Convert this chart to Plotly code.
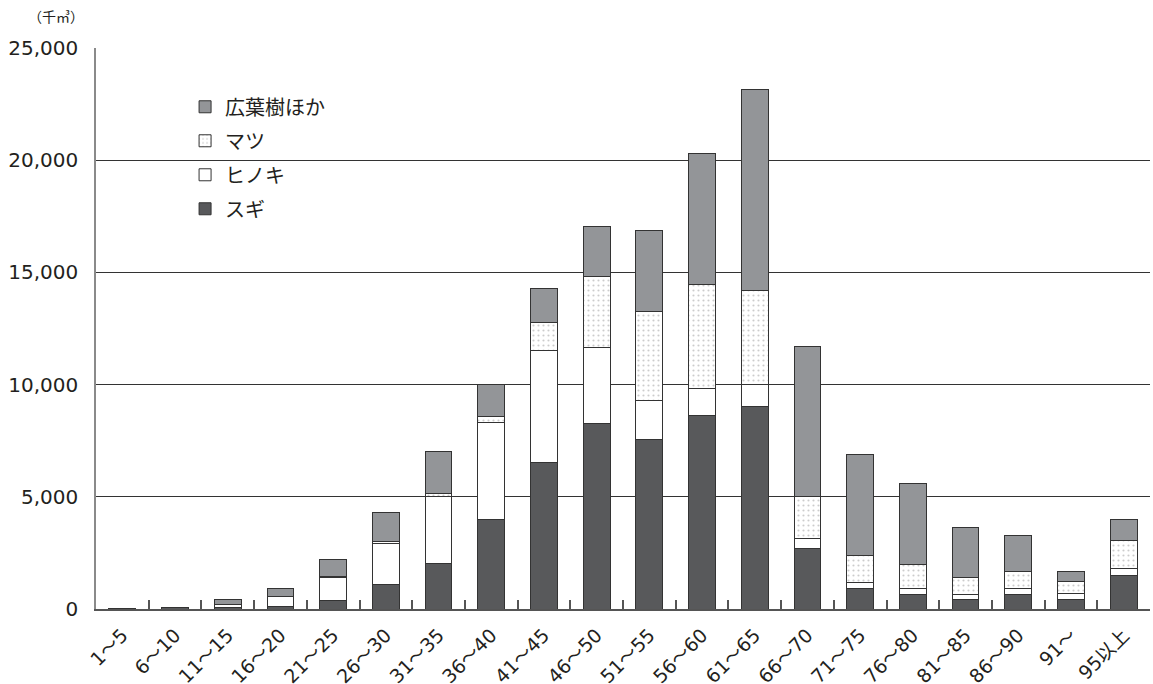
import plotly.graph_objects as go

categories = ["1〜5", "6〜10", "11〜15", "16〜20", "21〜25", "26〜30", "31〜35", "36〜40",
              "41〜45", "46〜50", "51〜55", "56〜60", "61〜65", "66〜70", "71〜75", "76〜80",
              "81〜85", "86〜90", "91〜", "95以上"]

sugi = [20, 50, 80, 100, 400, 1100, 2050, 3970, 6540, 8245, 7560, 8615, 9015,
        2705, 920, 655, 430, 655, 430, 1500]
hinoki = [10, 10, 120, 450, 1000, 1830, 2980, 4350, 4960, 3405, 1710, 1215, 1000,
          430, 270, 250, 225, 250, 270, 300]
matsu = [0, 0, 10, 20, 60, 100, 130, 250, 1260, 3160, 3980, 4640, 4200,
         1870, 1185, 1085, 755, 775, 520, 1275]
koyoju = [10, 20, 220, 350, 750, 1250, 1850, 1420, 1515, 2230, 3610, 5810, 8955,
          6715, 4515, 3610, 2200, 1600, 470, 925]

tick_vals = [0, 5000, 10000, 15000, 20000, 25000]
tick_text = ["0", "5,000", "10,000", "15,000", "20,000", "25,000"]

line = dict(color="#333333", width=1)
fig = go.Figure()
fig.add_trace(go.Bar(x=categories, y=sugi, name="スギ", legendgroup="sugi", legendrank=4,
                     marker=dict(color="#58595b", line=line)))
fig.add_trace(go.Bar(x=categories, y=hinoki, name="ヒノキ", legendgroup="hinoki", legendrank=3,
                     marker=dict(color="#ffffff", line=line)))
fig.add_trace(go.Bar(x=categories, y=matsu, name="マツ", legendgroup="matsu", legendrank=2,
                     marker=dict(color="#ffffff", line=line,
                                 pattern=dict(shape=".", fgcolor="#9a9a9a", bgcolor="#ffffff",
                                              size=5, solidity=0.15))))
fig.add_trace(go.Bar(x=categories, y=koyoju, name="広葉樹ほか", legendgroup="koyoju", legendrank=1,
                     marker=dict(color="#939598", line=line)))

num_font = "DejaVu Sans, Noto Sans CJK JP, sans-serif"

fig.update_layout(
    barmode="stack",
    bargap=0.49,
    width=1153, height=684,
    margin=dict(l=96, r=3, t=48, b=75),
    paper_bgcolor="white", plot_bgcolor="white",
    font=dict(family=num_font, color="#231f20", size=19),
    legend=dict(x=0.0845, y=0.93, xanchor="left", yanchor="top",
                traceorder="grouped", tracegroupgap=5,
                font=dict(family="Noto Sans CJK JP, sans-serif", size=20, color="#231f20"),
                bgcolor="rgba(0,0,0,0)"),
    showlegend=True,
    annotations=[dict(text="（千㎥）", xref="paper", yref="paper", x=-0.066, y=1.035,
                      xanchor="left", yanchor="bottom", showarrow=False,
                      font=dict(family="Noto Sans CJK JP, sans-serif", size=14, color="#231f20"))],
)
fig.update_yaxes(range=[0, 25000], tickvals=tick_vals, ticktext=tick_text,
                 showgrid=True, gridcolor="#333333", gridwidth=1,
                 showline=True, linecolor="#8a8a8a", linewidth=1.5,
                 ticks="", ticklabelstandoff=12, tickfont=dict(size=20, family=num_font),
                 zeroline=False, fixedrange=True, automargin=False)
fig.update_xaxes(type="category", tickangle=-45, tickson="boundaries",
                 ticks="inside", ticklen=9, tickcolor="#555555", tickwidth=1.5,
                 showline=True, linecolor="#555555", linewidth=1.5,
                 ticklabelstandoff=6, automargin=False,
                 tickfont=dict(size=19, family=num_font), showgrid=False)

fig.write_html("out.html")
